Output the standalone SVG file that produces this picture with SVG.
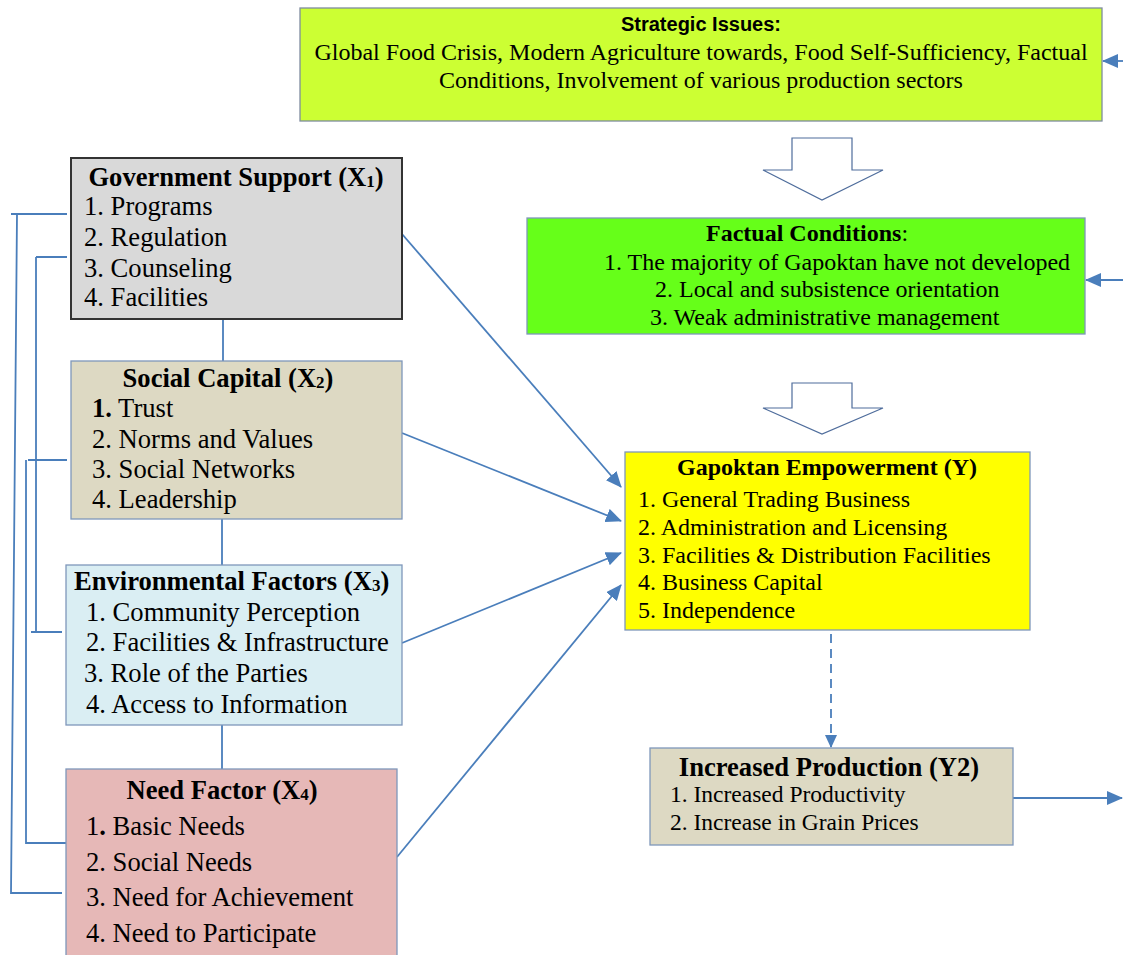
<svg xmlns="http://www.w3.org/2000/svg" width="1123" height="955" viewBox="0 0 1123 955">
<defs>
<style>
.box{stroke:#7f97bb;stroke-width:1.3}
.t{font-family:"Liberation Serif","Times New Roman",serif;fill:#000}
.b{font-weight:bold}
.s26{font-size:26.6px}
.s24{font-size:24px}
.s22{font-size:23.5px}
.sub{font-size:17px}
.con{stroke:#4a7ebb;stroke-width:1.8;fill:none}
.hol{stroke:#4f6d9c;stroke-width:1.2;fill:#fff}
</style>
<marker id="ah" markerUnits="userSpaceOnUse" markerWidth="16" markerHeight="14" refX="15" refY="7" orient="auto">
<path d="M0,0 L16,7 L0,14 z" fill="#4a7ebb"/>
</marker>
<marker id="ahs" markerUnits="userSpaceOnUse" markerWidth="14" markerHeight="14" refX="12" refY="7" orient="auto">
<path d="M0,1 L13,7 L0,13 z" fill="#4a7ebb"/>
</marker>
</defs>
<rect width="1123" height="955" fill="#fff"/>

<g id="connectors">
<path class="con" d="M11,214 H67 M17,214 L11,893 H62"/>
<path class="con" d="M36,257 H67 M36,257 V632 M31,632 H62"/>
<path class="con" d="M28,460 H67 M26,460 V843 H66"/>
<path class="con" d="M223,319 V361 M222,519 V565 M222,725 V769"/>
<path class="con" d="M402,234 L621,487" marker-end="url(#ah)"/>
<path class="con" d="M402,433 L621,521" marker-end="url(#ah)"/>
<path class="con" d="M402,643 L621,553" marker-end="url(#ah)"/>
<path class="con" d="M397,857 L621,585" marker-end="url(#ah)"/>
<path class="con" d="M1123,61 L1103,61" marker-end="url(#ah)"/>
<path class="con" d="M1123,280 L1086,280" marker-end="url(#ah)"/>
<path class="con" d="M1013,798 L1122,798" marker-end="url(#ah)"/>
<path class="con" d="M831,634 L831,747" stroke-width="2.8" stroke-dasharray="9,6" marker-end="url(#ahs)"/>
<path class="hol" d="M792,138 H852 V170 H883 L822,200 L763,170 H792 Z"/>
<path class="hol" d="M792,383 H852 V408 H883 L822,434 L763,408 H792 Z"/>
</g>

<g id="strategic">
<rect x="300" y="8" width="802" height="113" fill="#ccff33" stroke="#7f8c9f" stroke-width="1.3"/>
<text x="701" y="31" text-anchor="middle" font-family="'Liberation Sans',Arial,sans-serif" font-weight="bold" font-size="20">Strategic Issues:</text>
<text class="t s24" x="701" y="60" text-anchor="middle">Global Food Crisis, Modern Agriculture towards, Food Self-Sufficiency, Factual</text>
<text class="t s24" x="701" y="88" text-anchor="middle">Conditions, Involvement of various production sectors</text>
</g>

<g id="factual">
<rect class="box" x="527" y="218" width="558" height="116" fill="#66ff19"/>
<text class="t s24" x="706" y="241"><tspan class="b">Factual Conditions</tspan>:</text>
<text class="t s24" x="604" y="270">1. The majority of Gapoktan have not developed</text>
<text class="t s24" x="655" y="297">2. Local and subsistence orientation</text>
<text class="t s24" x="650" y="325">3. Weak administrative management</text>
</g>

<g id="gapoktan">
<rect class="box" x="625" y="452" width="405" height="178" fill="#ffff00"/>
<text class="t s24 b" x="827" y="475" text-anchor="middle">Gapoktan Empowerment (Y)</text>
<text class="t s24" x="638" y="507">1. General Trading Business</text>
<text class="t s24" x="638" y="535">2. Administration and Licensing</text>
<text class="t s24" x="638" y="563">3. Facilities &amp; Distribution Facilities</text>
<text class="t s24" x="638" y="590">4. Business Capital</text>
<text class="t s24" x="638" y="618">5. Independence</text>
</g>

<g id="production">
<rect class="box" x="650" y="748" width="363" height="97" fill="#ddd9c3"/>
<text class="t s26 b" x="829" y="776" text-anchor="middle">Increased Production (Y2)</text>
<text class="t s22" x="670" y="802">1. Increased Productivity</text>
<text class="t s22" x="670" y="830">2. Increase in Grain Prices</text>
</g>

<g id="government">
<rect x="71" y="158" width="331" height="161" fill="#d9d9d9" stroke="#333" stroke-width="2"/>
<text class="t s26 b" x="236" y="186" text-anchor="middle">Government Support (X<tspan class="sub" dy="1">1</tspan><tspan dy="-1">)</tspan></text>
<text class="t s26" x="84" y="215">1. Programs</text>
<text class="t s26" x="84" y="246">2. Regulation</text>
<text class="t s26" x="84" y="277">3. Counseling</text>
<text class="t s26" x="84" y="306">4. Facilities</text>
</g>

<g id="social">
<rect class="box" x="71" y="361" width="331" height="158" fill="#ddd9c3"/>
<text class="t s26 b" x="228" y="387" text-anchor="middle">Social Capital (X<tspan class="sub" dy="1">2</tspan><tspan dy="-1">)</tspan></text>
<text class="t s26" x="92" y="417"><tspan class="b">1.</tspan> Trust</text>
<text class="t s26" x="92" y="448">2. Norms and Values</text>
<text class="t s26" x="92" y="478">3. Social Networks</text>
<text class="t s26" x="92" y="508">4. Leadership</text>
</g>

<g id="environmental">
<rect class="box" x="66" y="565" width="336" height="160" fill="#daeef3"/>
<text class="t s26 b" x="74" y="590">Environmental Factors (X<tspan class="sub" dy="1">3</tspan><tspan dy="-1">)</tspan></text>
<text class="t s26" x="86" y="621">1. Community Perception</text>
<text class="t s26" x="86" y="651">2. Facilities &amp; Infrastructure</text>
<text class="t s26" x="84" y="682">3. Role of the Parties</text>
<text class="t s26" x="86" y="713">4. Access to Information</text>
</g>

<g id="need">
<rect class="box" x="66" y="769" width="331" height="195" fill="#e6b8b7"/>
<text class="t s26 b" x="222" y="799" text-anchor="middle">Need Factor (X<tspan class="sub" dy="1">4</tspan><tspan dy="-1">)</tspan></text>
<text class="t s26" x="86" y="835">1<tspan class="b">.</tspan> Basic Needs</text>
<text class="t s26" x="86" y="871">2. Social Needs</text>
<text class="t s26" x="86" y="906">3. Need for Achievement</text>
<text class="t s26" x="86" y="942">4. Need to Participate</text>
</g>
</svg>
